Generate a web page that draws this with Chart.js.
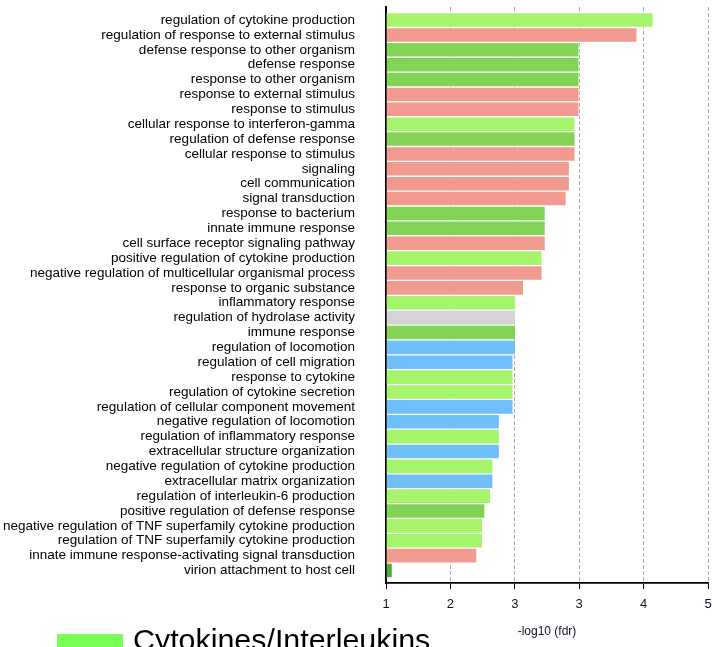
<!DOCTYPE html>
<html>
<head>
<meta charset="utf-8">
<script src="https://cdn.jsdelivr.net/npm/chart.js@4/dist/chart.umd.min.js"></script>
<style>
  html, body { margin: 0; padding: 0; background: #fff; overflow: hidden; }
  #wrap { position: relative; width: 712px; height: 647px; }
</style>
</head>
<body>
<div id="wrap"><canvas id="chart-go"></canvas></div>
<script>
// ── DATA ──
const categories = [
    'regulation of cytokine production',
    'regulation of response to external stimulus',
    'defense response to other organism',
    'defense response',
    'response to other organism',
    'response to external stimulus',
    'response to stimulus',
    'cellular response to interferon-gamma',
    'regulation of defense response',
    'cellular response to stimulus',
    'signaling',
    'cell communication',
    'signal transduction',
    'response to bacterium',
    'innate immune response',
    'cell surface receptor signaling pathway',
    'positive regulation of cytokine production',
    'negative regulation of multicellular organismal process',
    'response to organic substance',
    'inflammatory response',
    'regulation of hydrolase activity',
    'immune response',
    'regulation of locomotion',
    'regulation of cell migration',
    'response to cytokine',
    'regulation of cytokine secretion',
    'regulation of cellular component movement',
    'negative regulation of locomotion',
    'regulation of inflammatory response',
    'extracellular structure organization',
    'negative regulation of cytokine production',
    'extracellular matrix organization',
    'regulation of interleukin-6 production',
    'positive regulation of defense response',
    'negative regulation of TNF superfamily cytokine production',
    'regulation of TNF superfamily cytokine production',
    'innate immune response-activating signal transduction',
    'virion attachment to host cell'
];

// -log10(fdr)
const values = [
    4.32, 4.12, 3.40, 3.40, 3.40, 3.40, 3.40, 3.35, 3.35, 3.35,
    3.28, 3.28, 3.24, 2.98, 2.98, 2.98, 2.94, 2.94, 2.71, 2.61,
    2.61, 2.61, 2.61, 2.58, 2.58, 2.58, 2.58, 2.41, 2.41, 2.41,
    2.33, 2.33, 2.30, 2.23, 2.20, 2.20, 2.13, 1.08
];

// colour group of each term
const groups = [
    'cyto', 'signal', 'defense', 'defense', 'defense', 'signal', 'signal', 'cyto', 'defense', 'signal',
    'signal', 'signal', 'signal', 'defense', 'defense', 'signal', 'cyto', 'signal', 'signal', 'cyto',
    'other', 'defense', 'motility', 'motility', 'cyto', 'cyto', 'motility', 'motility', 'cyto', 'motility',
    'cyto', 'motility', 'cyto', 'defense', 'cyto', 'cyto', 'signal', 'virus'
];

const xTicks = [1, 1.8, 2.6, 3.4, 4.2, 5];
const legendLabels = ['Cytokines/Interleukins'];

const groupColors = {
    cyto: '#a5f46b',
    defense: '#81d456',
    signal: '#f19b90',
    motility: '#6fc0fa',
    other: '#d4d4d4',
    virus: '#4fae37'
};
const FONT = "'Liberation Sans', Arial, sans-serif";

// ── LEGEND (drawn at the bottom-left, partly cut off) ──
const legendPlugin = {
    id: 'bottomLegend',
    afterDraw(chart) {
        const ctx = chart.ctx;
        ctx.save();
        ctx.fillStyle = '#77ff55';
        ctx.fillRect(57, 634, 66, 20);
        ctx.fillStyle = '#000';
        ctx.font = '30.4px ' + FONT;
        ctx.textBaseline = 'alphabetic';
        ctx.textAlign = 'left';
        ctx.fillText(legendLabels[0], 133, 650);
        ctx.restore();
    }
};

// ── CHART ──
const ctx = document.getElementById('chart-go');
new Chart(ctx.getContext('2d'), {
    type: 'bar',
    data: {
        datasets: [{
            data: values.map((v, i) => ({ x: v, y: i })),
            backgroundColor: groups.map(g => groupColors[g]),
            borderColor: 'rgba(255,255,255,0.6)',
            borderWidth: 1,
            base: 1,
            categoryPercentage: 1,
            barPercentage: 1
        }]
    },
    options: {
        indexAxis: 'y',
        responsive: true,
        maintainAspectRatio: false,
        animation: false,
        layout: { padding: { top: 7, right: 4, left: 0, bottom: 0 } },
        scales: {
            y: {
                type: 'linear',
                reverse: true,
                offset: false,
                min: -0.88,
                max: 37.84,
                afterBuildTicks: s => { s.ticks = categories.map((c, i) => ({ value: i })); },
                afterFit: s => { s.width = 386; s.paddingTop = 0; s.paddingBottom = 0; },
                ticks: {
                    autoSkip: false,
                    padding: 23,
                    color: '#000',
                    font: { family: FONT, size: 13.5 },
                    callback: v => categories[v]
                },
                grid: { display: false },
                border: { display: true, color: '#000', width: 2 }
            },
            x: {
                type: 'linear',
                min: 1,
                max: 5,
                afterBuildTicks: s => { s.ticks = xTicks.map(v => ({ value: v })); },
                afterFit: s => { s.height = 64; s.paddingLeft = 0; s.paddingRight = 0; },
                ticks: {
                    padding: 8,
                    color: '#101028',
                    font: { family: FONT, size: 13 },
                    callback: v => Math.round(v)
                },
                grid: {
                    color: '#a9a9a9',
                    tickColor: '#000',
                    tickBorderDash: [],
                    tickLength: 6,
                    lineWidth: 1
                },
                border: { display: true, color: '#000', width: 1.8, dash: [4, 2] },
                title: {
                    display: true,
                    text: '-log10 (fdr)',
                    color: '#101028',
                    font: { family: FONT, size: 12 },
                    padding: { top: 0, bottom: 8 }
                }
            }
        },
        plugins: {
            legend: { display: false },
            tooltip: { enabled: false }
        }
    },
    plugins: [legendPlugin]
});
</script>
</body>
</html>
